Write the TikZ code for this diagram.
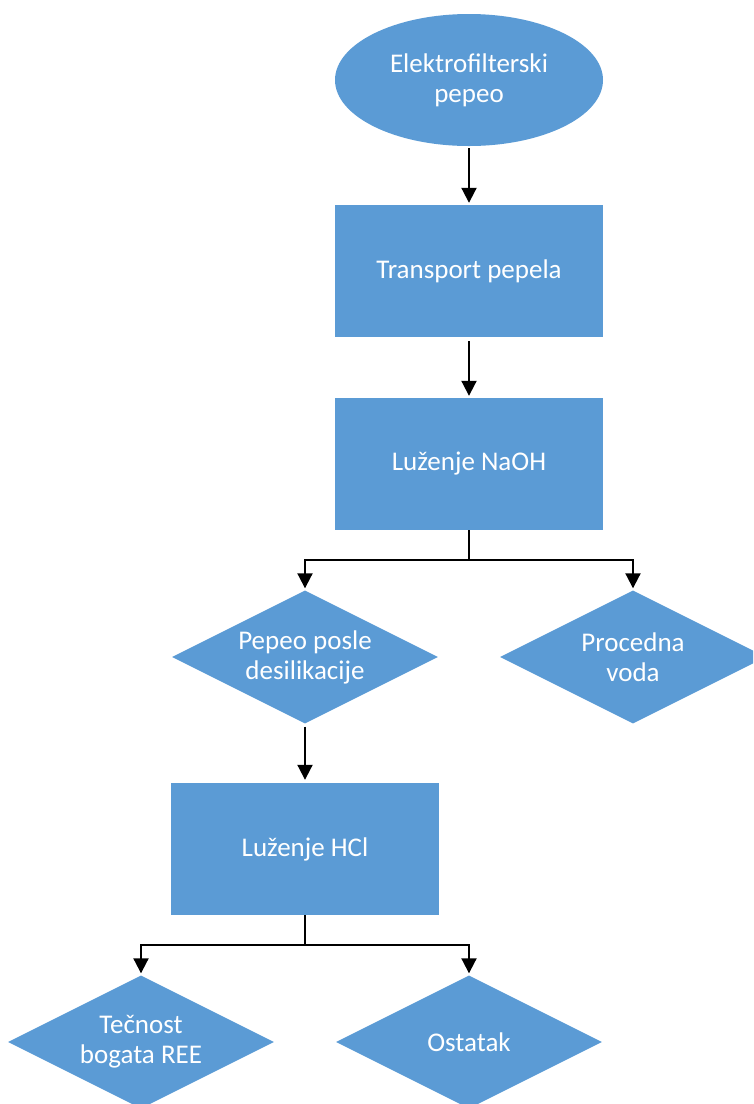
\documentclass[tikz,border=0pt]{standalone}
\usepackage{fontspec}
\setmainfont{Carlito}
\usetikzlibrary{arrows.meta,positioning,shapes.geometric}
\definecolor{boxblue}{HTML}{5B9BD5}

\begin{document}
\begin{tikzpicture}[x=1pt,y=-1pt,
  oblik/.style={fill=boxblue,text=white,inner sep=0pt,align=center,font=\fontsize{27}{30}\selectfont},
  blok/.style={oblik,rectangle,minimum width=268pt,minimum height=132pt},
  romb/.style={oblik,diamond,aspect=2,minimum width=266pt,minimum height=133pt},
  pocetak/.style={oblik,ellipse,minimum width=268pt,minimum height=132pt},
  strelica/.style={line width=2pt,-{Triangle[width=15pt,length=15pt]}}]
\clip (0,0) rectangle (753,1104);
\node[pocetak] (pepeo) at (469,80) {Elektrofilterski\\pepeo};
\node[blok] (transport) at (469,271) {Transport pepela};
\node[blok] (naoh) at (469,464) {Luženje NaOH};
\node[romb] (desil) at (305,657) {Pepeo posle\\desilikacije};
\node[romb] (voda) at (633,657) {Procedna\\voda};
\node[blok] (hcl) at (305,849) {Luženje HCl};
\node[romb] (ree) at (141,1042) {Tečnost\\bogata REE};
\node[romb] (ostatak) at (469,1042) {Ostatak};
% glavni tok
\draw[strelica,shorten <=2pt,shorten >=2pt] (pepeo) -- (transport);
\draw[strelica,shorten <=4pt,shorten >=2pt] (transport) -- (naoh);
\draw[strelica,shorten <=3pt,shorten >=3pt] (desil) -- (hcl);
% grananje
\draw[line width=2pt] (naoh.south) -- ++(0,30) coordinate (g1);
\draw[strelica,shorten >=2pt] (g1) -| (desil.north);
\draw[strelica,shorten >=2pt] (g1) -| (voda.north);
\draw[line width=2pt] (hcl.south) -- ++(0,30) coordinate (g2);
\draw[strelica,shorten >=2pt] (g2) -| (ree.north);
\draw[strelica,shorten >=2pt] (g2) -| (ostatak.north);
\end{tikzpicture}
\end{document}
